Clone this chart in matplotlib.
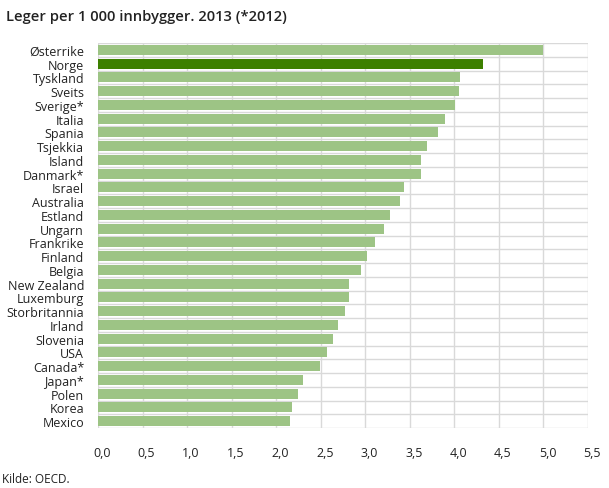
import matplotlib
matplotlib.use('Agg')
import matplotlib.pyplot as plt
import matplotlib.transforms as mtransforms
import numpy as np

plt.rcParams['font.family'] = ['Open Sans', 'DejaVu Sans']

countries = ['Østerrike', 'Norge', 'Tyskland', 'Sveits', 'Sverige*', 'Italia', 'Spania',
             'Tsjekkia', 'Island', 'Danmark*', 'Israel', 'Australia', 'Estland', 'Ungarn',
             'Frankrike', 'Finland', 'Belgia', 'New Zealand', 'Luxemburg', 'Storbritannia',
             'Irland', 'Slovenia', 'USA', 'Canada*', 'Japan*', 'Polen', 'Korea', 'Mexico']
values = [4.99, 4.32, 4.06, 4.05, 4.01, 3.90, 3.82, 3.69, 3.62, 3.62, 3.43, 3.39, 3.28, 3.21,
          3.11, 3.02, 2.95, 2.82, 2.82, 2.77, 2.69, 2.64, 2.57, 2.49, 2.30, 2.24, 2.18, 2.16]
xticks = [0, 0.5, 1.0, 1.5, 2.0, 2.5, 3.0, 3.5, 4.0, 4.5, 5.0, 5.5]

light = '#9dc485'
dark = '#3d8000'
colors = [dark if c == 'Norge' else light for c in countries]

fig = plt.figure(figsize=(6.09, 4.89), dpi=100)
ax = fig.add_axes([98/609, 1 - 429/489, 490/609, 385/489])

y = np.arange(len(countries))
ax.barh(y, values, height=0.74, color=colors, zorder=3)
ax.set_ylim(len(countries) - 0.5, -0.5)
ax.set_xlim(0, 5.5)

ax.set_yticks(y)
ax.set_yticklabels(countries, fontsize=9, color='#222222')
ax.set_xticks(xticks)
ax.set_xticklabels([f'{t:.1f}'.replace('.', ',') for t in xticks], fontsize=9, color='#222222')
ax.tick_params(axis='both', length=0)
ax.tick_params(axis='y', pad=10)
ax.tick_params(axis='x', pad=13)
offset = mtransforms.ScaledTranslation(4/100, 0, fig.dpi_scale_trans)
for lbl in ax.get_xticklabels():
    lbl.set_transform(lbl.get_transform() + offset)

# vertical grid at ticks, horizontal grid between categories
for t in xticks:
    ax.axvline(t, color='#d9d9d9', lw=1, zorder=1)
for b in np.arange(-0.5, len(countries), 1):
    ax.axhline(b, color='#d9d9d9', lw=1, zorder=1)
for s in ax.spines.values():
    s.set_visible(False)

fig.text(6/609, 1 - 17/489, 'Leger per 1 000 innbygger. 2013 (*2012)', fontsize=10.6,
         fontweight='semibold', va='center', ha='left', color='#222222')
fig.text(2/609, 1 - 480/489, 'Kilde: OECD.', fontsize=8.5, va='center', ha='left', color='#222222')

fig.savefig('out.png', dpi=100)
